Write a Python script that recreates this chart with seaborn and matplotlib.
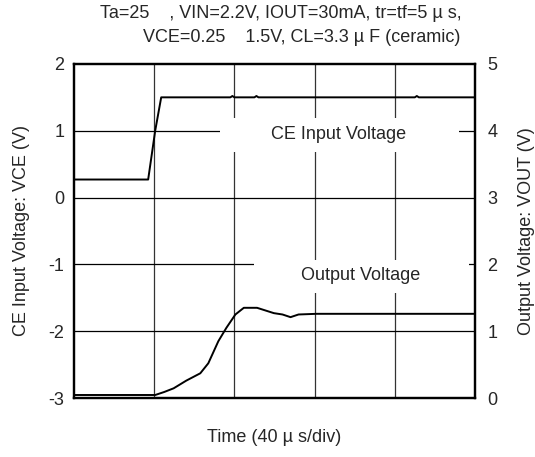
"""
CE 入力電圧 / 出力電圧 過渡応答波形
"""

import matplotlib

matplotlib.use("Agg")
import matplotlib.pyplot as plt
import pandas as pd
import seaborn as sns
from matplotlib.patches import Rectangle

sns.set_theme(style="white")
plt.rcParams["font.family"] = ["Liberation Sans", "DejaVu Sans"]
plt.rcParams["axes.unicode_minus"] = False

# ─── データ (読み取り値) ─────────────────────────────────────
# 時間 [µs]、40 µs/div × 5 div
ce_time = [0, 10, 20, 30, 37, 40.5, 43.5, 60, 78, 79, 80, 90, 91, 92, 120, 140, 160, 170, 171, 172, 200]
ce_volt = [0.27, 0.27, 0.27, 0.27, 0.27, 1.0, 1.5, 1.5, 1.5, 1.52, 1.5, 1.5, 1.52, 1.5, 1.5, 1.5, 1.5, 1.5, 1.52, 1.5, 1.5]

out_time = [0, 20, 40.5, 45, 49.7, 56, 63, 67, 72, 76, 80.5, 84.7, 91.3, 99.7, 104, 108, 112, 121, 140, 160, 180, 200]
out_volt = [0.045, 0.045, 0.045, 0.09, 0.145, 0.26, 0.37, 0.52, 0.85, 1.05, 1.25, 1.35, 1.35, 1.27, 1.25, 1.21, 1.25, 1.26, 1.26, 1.26, 1.26, 1.26]

left_ticks = [-3, -2, -1, 0, 1, 2]
right_ticks = [0, 1, 2, 3, 4, 5]
time_grid = [0, 40, 80, 120, 160, 200]

ce_df = pd.DataFrame({"t": ce_time, "v": ce_volt})
out_df = pd.DataFrame({"t": out_time, "v": out_volt})

# ─── Figure ────────────────────────────────────────────────
fig = plt.figure(figsize=(5.35, 4.57), dpi=100, facecolor="white")
ax = fig.add_axes([0.1383, 0.1291, 0.7495, 0.731])
ax2 = ax.twinx()

ax.set_xlim(0, 200)
ax.set_ylim(-3, 2)
ax2.set_ylim(0, 5)

# グリッド
for t in time_grid[1:-1]:
    ax.axvline(t, color="#333333", linewidth=0.9, zorder=1)
for v in left_ticks[1:-1]:
    ax.axhline(v, color="black", linewidth=0.9, zorder=1)

# ラベル用の白抜きボックス
ax.add_patch(Rectangle((73, 0.68), 119, 0.51, facecolor="white", edgecolor="none", zorder=2))
ax.add_patch(Rectangle((90, -1.43), 107, 0.49, facecolor="white", edgecolor="none", zorder=2))
ax.text(132, 0.94, "CE Input Voltage", ha="center", va="center", fontsize=13, zorder=3)
ax.text(143, -1.16, "Output Voltage", ha="center", va="center", fontsize=13, zorder=3)

# 波形
sns.lineplot(data=ce_df, x="t", y="v", color="black", linewidth=1.4, ax=ax, zorder=4)
sns.lineplot(data=out_df, x="t", y="v", color="black", linewidth=1.4, ax=ax2, zorder=4)

ax.set_xticks([])
ax.set_yticks(left_ticks)
ax2.set_yticks(right_ticks)
ax.tick_params(axis="y", length=0, labelsize=13, pad=7)
ax2.tick_params(axis="y", length=0, labelsize=13, pad=9)

ax.set_xlabel("Time (40 µ s/div)", fontsize=13, labelpad=22)
ax.set_ylabel("CE Input Voltage: VCE (V)", fontsize=13, labelpad=13)
ax2.set_ylabel("Output Voltage: VOUT (V)", fontsize=13, labelpad=15)

for a in (ax, ax2):
    for sp in a.spines.values():
        sp.set_color("black")
        sp.set_linewidth(1.6)

fig.text(100 / 535, 0.97, "Ta=25    , VIN=2.2V, IOUT=30mA, tr=tf=5 µ s,", ha="left", va="center", fontsize=13)
fig.text(143 / 535, 0.917, "VCE=0.25    1.5V, CL=3.3 µ F (ceramic)", ha="left", va="center", fontsize=13)

fig.savefig("out.png", dpi=100, facecolor="white")
